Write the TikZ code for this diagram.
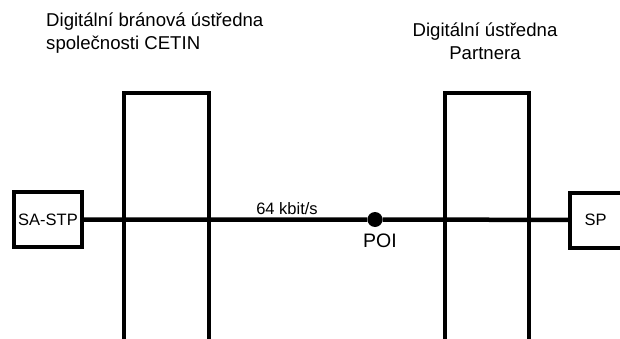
\documentclass[tikz,border=0pt]{standalone}
\usepackage{fontspec}
\setmainfont{Liberation Sans}
\begin{document}
\begin{tikzpicture}[x=1pt,y=-1pt,
    unitbox/.style={draw,line width=4pt,minimum width=68pt,minimum height=55pt,inner sep=0pt,font=\fontsize{16.5}{19}\selectfont},
    wall/.style={line width=4.2pt,line join=miter},
    title/.style={inner sep=0pt,font=\fontsize{18.6}{23}\selectfont}]
    \useasboundingbox (0,0) rectangle (620,339);
    % exchanges
    \node[title,anchor=base west,align=left] (gw) at (46,50) {Digitální bránová ústředna\\společnosti CETIN};
    \node[title,anchor=base,align=center] (px) at (485,59.5) {Digitální ústředna\\Partnera};
    \draw[wall] (124,339) -- (124,93) -- (209,93) -- (209,339);
    \draw[wall] (445,339) -- (445,93) -- (529,93) -- (529,339);
    % end points
    \node[unitbox] (sastp) at (48,219.5) {SA-STP};
    \node[unitbox] (sp) at (604,220) {\hspace*{-17pt}SP};
    \node[circle,fill,inner sep=0pt,minimum size=15pt] (poi) at (375,219.5) {};
    \draw[line width=4.5pt] (sastp) -- (poi) -- (sp);
    \node[inner sep=0pt,anchor=base,font=\fontsize{16.5}{19}\selectfont] (rate) at (287,214) {64 kbit/s};
    \node[inner sep=0pt,anchor=base,font=\fontsize{19.5}{22}\selectfont] (poilbl) at (380,247) {POI};
\end{tikzpicture}
\end{document}
